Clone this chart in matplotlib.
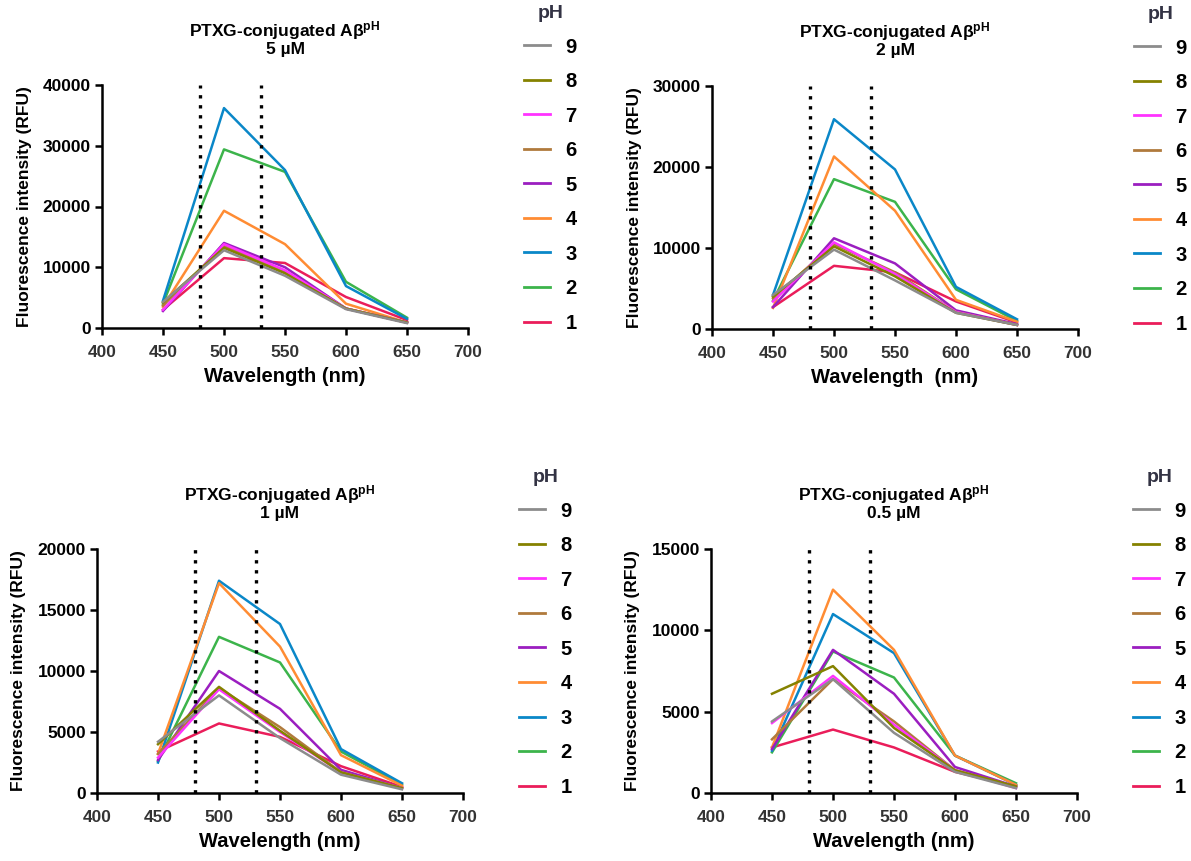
import numpy as np
import matplotlib.pyplot as plt
from matplotlib.lines import Line2D

plt.rcParams['font.family'] = ['Liberation Sans', 'DejaVu Sans']
plt.rcParams['font.weight'] = 'bold'
plt.rcParams['mathtext.fontset'] = 'custom'
plt.rcParams['mathtext.rm'] = 'Liberation Sans:bold'
plt.rcParams['mathtext.bf'] = 'Liberation Sans:bold'
plt.rcParams['mathtext.default'] = 'bf'

wavelength = [450, 500, 550, 600, 650]
ph_labels = ['1', '2', '3', '4', '5', '6', '7', '8', '9']
colors = ['#ea1d5a', '#3cb44b', '#0a87c8', '#ff8c33', '#9b1ec0',
          '#b07a3c', '#ff33ff', '#858200', '#8c8c8c']

# values per pH (1..9), each over wavelength
conc_5uM = [
    [3000, 11500, 10700, 5100, 1300],
    [4000, 29400, 25700, 7600, 1700],
    [4500, 36200, 26000, 6900, 1500],
    [3500, 19300, 13800, 4000, 900],
    [2800, 14000, 10000, 3200, 900],
    [3700, 13500, 9200, 3200, 900],
    [3000, 13800, 9500, 3200, 900],
    [4200, 13200, 9000, 3200, 900],
    [4300, 12800, 8600, 3100, 800],
]
conc_2uM = [
    [2700, 7800, 7000, 3400, 800],
    [3500, 18500, 15700, 4900, 1000],
    [4200, 25900, 19700, 5200, 1200],
    [2600, 21300, 14600, 3600, 900],
    [2700, 11200, 8100, 2300, 600],
    [3800, 10500, 7000, 2100, 500],
    [3400, 10700, 6800, 2100, 500],
    [4000, 10200, 6500, 2000, 500],
    [4200, 9800, 6000, 2000, 500],
]
conc_1uM = [
    [3400, 5700, 4600, 2200, 500],
    [2600, 12800, 10700, 3400, 700],
    [2500, 17400, 13850, 3600, 800],
    [3200, 17200, 12000, 3100, 600],
    [2700, 10000, 6900, 1900, 400],
    [3200, 8600, 5400, 1700, 400],
    [2900, 8500, 5000, 1700, 400],
    [4000, 8700, 5100, 1700, 400],
    [4200, 8000, 4500, 1500, 300],
]
conc_05uM = [
    [2800, 3900, 2800, 1300, 400],
    [2500, 8700, 7100, 2300, 600],
    [2600, 11000, 8600, 2300, 500],
    [2800, 12500, 8800, 2300, 500],
    [2700, 8800, 6100, 1600, 400],
    [3300, 7000, 4400, 1400, 400],
    [4300, 7200, 4200, 1400, 300],
    [6100, 7800, 4000, 1400, 400],
    [4400, 7000, 3700, 1300, 300],
]

panels = [
    (conc_5uM, '5 \u00b5M', [0, 40000], 10000, 'Wavelength (nm)'),
    (conc_2uM, '2 \u00b5M', [0, 30000], 10000, 'Wavelength  (nm)'),
    (conc_1uM, '1 \u00b5M', [0, 20000], 5000, 'Wavelength (nm)'),
    (conc_05uM, '0.5 \u00b5M', [0, 15000], 5000, 'Wavelength (nm)'),
]

W, H = 1191, 861
fig = plt.figure(figsize=(W / 100, H / 100), dpi=100)

# axes boxes in pixels: left, top, right, bottom
boxes = [(102, 85, 468, 328), (712, 86, 1078, 329),
         (97, 549, 463, 793), (711, 549, 1077, 793)]

for (data, conc, ylim, ystep, xlabel), (l, t, r, b) in zip(panels, boxes):
    ax = fig.add_axes([l / W, 1 - b / H, (r - l) / W, (b - t) / H])
    for vals, c, lab in zip(data, colors, ph_labels):
        ax.plot(wavelength, vals, color=c, lw=1.8, label=lab)
    ax.axvline(480, color='black', ls=(0, (1, 2.0)), lw=2.4)
    ax.axvline(530, color='black', ls=(0, (1, 2.0)), lw=2.4)
    ax.set_xlim(400, 700)
    ax.set_ylim(*ylim)
    ax.set_xticks(np.arange(400, 701, 50))
    ax.set_yticks(np.arange(ylim[0], ylim[1] + 1, ystep))
    for s in ['top', 'right']:
        ax.spines[s].set_visible(False)
    for s in ['left', 'bottom']:
        ax.spines[s].set_linewidth(1.8)
    ax.tick_params(width=1.8, length=5, labelsize=12.5, pad=3)
    ax.tick_params(axis='x', labelcolor='#333333', pad=7)
    for lbl in ax.get_xticklabels() + ax.get_yticklabels():
        lbl.set_fontweight('bold')
    ax.set_xlabel(xlabel, fontsize=14.5, fontweight='bold', labelpad=5)
    ax.set_ylabel('Fluorescence intensity (RFU)', fontsize=12.5, fontweight='bold', labelpad=8)
    ax.set_title('PTXG-conjugated A\u03b2$^{pH}$\n' + conc, fontsize=12.5,
                 fontweight='bold', pad=22, linespacing=1.0)
    handles = [Line2D([], [], color=c, lw=2) for c in colors][::-1]
    leg = ax.legend(handles, ph_labels[::-1], title='pH', loc='upper left',
                    bbox_to_anchor=((l + 422) / W, 1 - (t - 80) / H),
                    bbox_transform=fig.transFigure,
                    frameon=False, fontsize=14.5, title_fontsize=14,
                    handlelength=1.3, handletextpad=0.75, labelspacing=0.77,
                    borderaxespad=0, borderpad=0)
    leg.get_title().set_fontweight('bold')
    leg.get_title().set_color('#333344')
    for txt in leg.get_texts():
        txt.set_fontweight('bold')

fig.savefig('out.png', dpi=100)
